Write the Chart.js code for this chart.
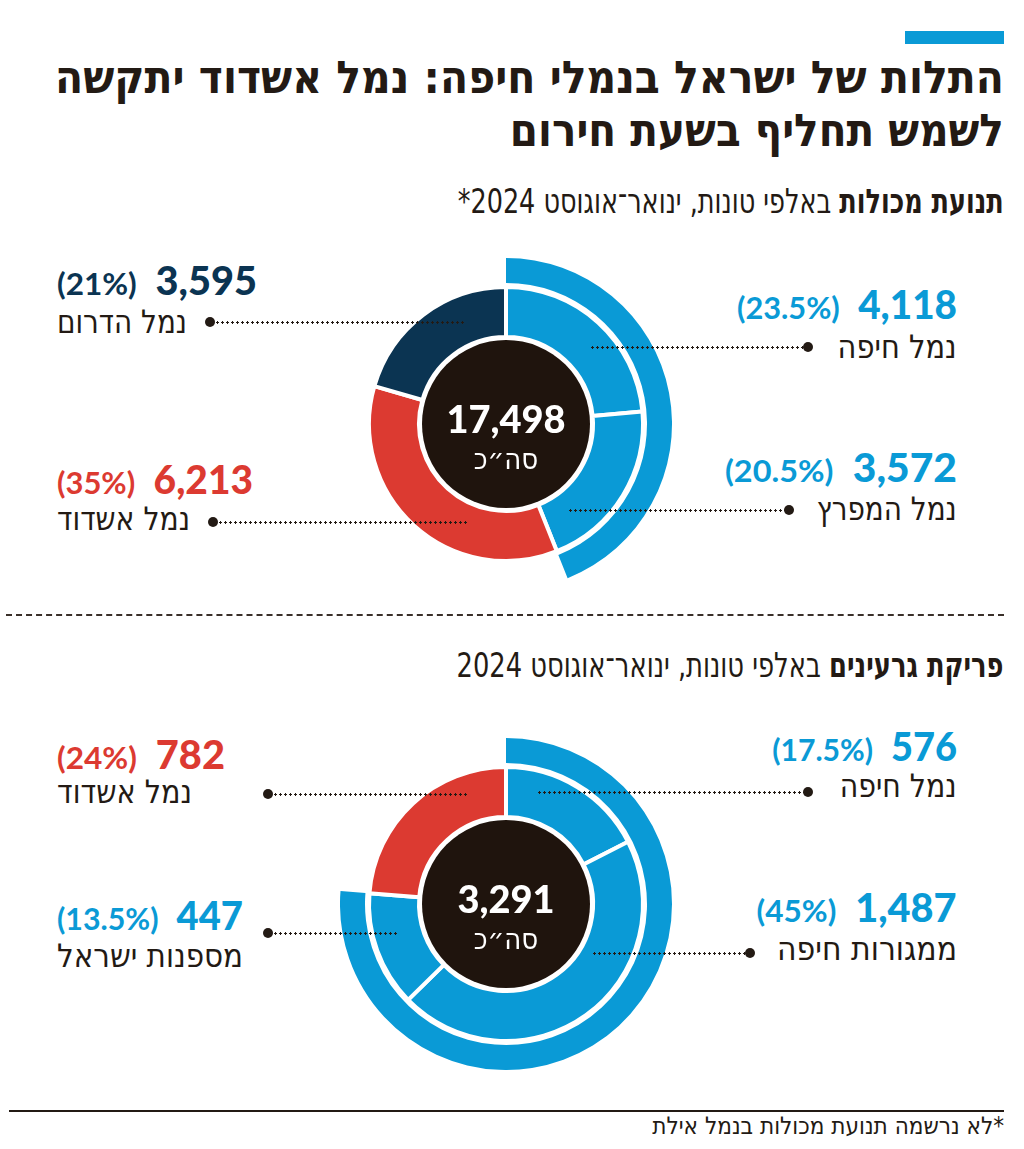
<!DOCTYPE html>
<html lang="he">
<head>
<meta charset="utf-8">
<script src="https://cdn.jsdelivr.net/npm/chart.js@4.4.1/dist/chart.umd.min.js"></script>
<style>
  html,body{margin:0;padding:0;background:#fff;}
  body{width:1024px;height:1149px;position:relative;overflow:hidden;color:#231a14;}
  .abs{position:absolute;white-space:nowrap;}
  .heb{font-family:"DejaVu Sans Condensed","DejaVu Sans","Liberation Sans",sans-serif;direction:rtl;}
  .num{font-family:Lato,"Open Sans",sans-serif;font-weight:900;direction:ltr;}
  .dots{position:absolute;height:3px;background-image:radial-gradient(circle,#231a14 1.1px,transparent 1.4px);background-size:5px 3px;background-repeat:repeat-x;}
  .dot{position:absolute;width:10px;height:10px;border-radius:50%;background:#231a14;}
  .center{position:absolute;text-align:center;color:#fff;}
</style>
</head>
<body>
<div id="stage"></div>
<script>
// ---------- DATA ----------
const containerLabels = ['נמל חיפה', 'נמל המפרץ', 'נמל אשדוד', 'נמל הדרום'];
const containerValues = [4118, 3572, 6213, 3595];
const containerPct    = ['23.5%', '20.5%', '35%', '21%'];
const containerHaifa  = [true, true, false, false];
const containerTotal  = 17498;

const grainLabels = ['נמל חיפה', 'ממגורות חיפה', 'מספנות ישראל', 'נמל אשדוד'];
const grainValues = [576, 1487, 447, 782];
const grainPct    = ['17.5%', '45%', '13.5%', '24%'];
const grainHaifa  = [true, true, true, false];
const grainTotal  = 3291;

const totalWord = 'סה״כ';

// ---------- STYLE ----------
const BLUE = '#0a9ad6', RED = '#dc3a31', NAVY = '#0b3452', DARK = '#1f140d', INK = '#231a14';
const containerColors = [BLUE, BLUE, RED, NAVY];
const grainColors = [BLUE, BLUE, BLUE, RED];

const stage = document.getElementById('stage');
function el(tag, cls, css, html){
  const e = document.createElement(tag);
  if (cls) e.className = cls;
  Object.assign(e.style, css || {});
  if (html !== undefined) e.innerHTML = html;
  stage.appendChild(e);
  return e;
}
function fit(e, w, origin){
  e.dataset.w = w; e.dataset.o = origin;
}

// header
el('div', 'abs', {left:'905px', top:'31px', width:'99px', height:'13px', background:BLUE});
let t1 = el('div', 'abs heb', {right:'20px', top:'51px', fontSize:'45px', fontWeight:'700', lineHeight:'53px', color:INK}, 'התלות של ישראל בנמלי חיפה: נמל אשדוד יתקשה');
fit(t1, 949, 'right');
let t2 = el('div', 'abs heb', {right:'20px', top:'104px', fontSize:'45px', fontWeight:'700', lineHeight:'53px', color:INK}, 'לשמש תחליף בשעת חירום');
fit(t2, 494, 'right');

let s1 = el('div', 'abs heb', {right:'20px', top:'184px', fontSize:'34px', lineHeight:'34px', color:INK}, '<b>תנועת מכולות</b> באלפי טונות, ינואר־אוגוסט 2024*');
fit(s1, 546, 'right');

el('div', 'abs', {left:'6px', top:'614px', width:'998px', height:'0', borderTop:'2px dashed #3a302a'});

let s2 = el('div', 'abs heb', {right:'20px', top:'648px', fontSize:'34px', lineHeight:'34px', color:INK}, '<b>פריקת גרעינים</b> באלפי טונות, ינואר־אוגוסט 2024');
fit(s2, 547, 'right');

el('div', 'abs', {left:'9px', top:'1110px', width:'995px', height:'2px', background:INK});
let fn = el('div', 'abs heb', {right:'20px', top:'1114px', fontSize:'24px', lineHeight:'24px', color:INK}, '*לא נרשמה תנועת מכולות בנמל אילת');
fit(fn, 352, 'right');

// ---------- CHARTS ----------
const centerDisc = {
  id: 'centerDisc',
  beforeDatasetsDraw(chart, args, opts){
    const meta = chart.getDatasetMeta(chart.data.datasets.length - 1);
    const a = meta.data[0];
    if (!a) return;
    const ctx = chart.ctx;
    ctx.save();
    ctx.beginPath();
    ctx.arc(a.x, a.y, a.innerRadius - opts.gap, 0, Math.PI * 2);
    ctx.fillStyle = opts.color;
    ctx.fill();
    ctx.restore();
  }
};

function makeDonut(cx, cy, values, colors, haifaFlags){
  const R = 166;
  const wrap = el('div', 'abs', {left:(cx - R) + 'px', top:(cy - R) + 'px', width:(2*R)+'px', height:(2*R)+'px'});
  const cv = document.createElement('canvas');
  cv.width = 2*R; cv.height = 2*R;
  cv.style.width = (2*R)+'px'; cv.style.height = (2*R)+'px';
  wrap.appendChild(cv);
  const haifaSum = values.reduce((s, v, i) => s + (haifaFlags[i] ? v : 0), 0);
  const otherSum = values.reduce((s, v, i) => s + (haifaFlags[i] ? 0 : v), 0);
  new Chart(cv, {
    type: 'doughnut',
    data: {
      labels: values.map((v, i) => i),
      datasets: [
        {data:[haifaSum, otherSum], backgroundColor:[BLUE, 'rgba(0,0,0,0)'], borderWidth:0, hoverBorderWidth:0, weight:25},
        {data:[1], backgroundColor:['rgba(0,0,0,0)'], borderWidth:0, hoverBorderWidth:0, weight:4},
        {data:values, backgroundColor:colors, borderColor:'#ffffff', borderWidth:4, hoverBorderWidth:4, weight:50}
      ]
    },
    options: {
      responsive:false, maintainAspectRatio:false, animation:false, events:[],
      cutout: (87/166*100) + '%',
      layout:{padding:0},
      plugins:{legend:{display:false}, tooltip:{enabled:false}, centerDisc:{gap:3, color:DARK}}
    },
    plugins:[centerDisc]
  });
}

const fmt = v => v.toLocaleString('en-US');

function centerText(cx, cy, total){
  el('div', 'center num', {left:(cx-90)+'px', width:'180px', top:(cy-28)+'px', fontSize:'38px', lineHeight:'44px'}, fmt(total));
  el('div', 'center heb', {left:(cx-90)+'px', width:'180px', top:(cy+17)+'px', fontSize:'29px', lineHeight:'36px'}, totalWord);
}

// label layout: side, anchor x, numTop, labTop, numW, labW, dot x/y, line end
function label(L, value, pct, name, color){
  const numCss = {top:L.numTop+'px', fontSize:'39px', lineHeight:'38px', color:color};
  if (L.side === 'right') numCss.right = (1024 - L.x) + 'px'; else numCss.left = L.x + 'px';
  const n = el('div', 'abs num', numCss, '<span style="font-size:31px;font-weight:700">(' + pct + ')</span>&nbsp;&nbsp;' + fmt(value));
  fit(n, L.numW, L.side === 'right' ? 'right' : 'left');
  const labCss = {top:L.labTop+'px', fontSize:'32px', lineHeight:'30px', color:INK};
  if (L.side === 'right') labCss.right = (1024 - L.x) + 'px'; else labCss.left = L.x + 'px';
  const lb = el('div', 'abs heb', labCss, name);
  fit(lb, L.labW, L.side === 'right' ? 'right' : 'left');
  el('div', 'dot', {left:(L.dx-5)+'px', top:(L.dy-5)+'px'});
  const a = Math.min(L.dx, L.le), b = Math.max(L.dx, L.le);
  el('div', 'dots', {left:a+'px', top:(L.dy-1.5)+'px', width:(b-a)+'px'});
}

const layout1 = [
  {side:'right', x:957, numTop:285, labTop:332, numW:220, labW:119, dx:808, dy:347, le:590},
  {side:'right', x:957, numTop:448, labTop:494, numW:232, labW:140, dx:789, dy:510, le:568},
  {side:'left',  x:57,  numTop:460, labTop:504, numW:196, labW:133, dx:213, dy:522, le:468},
  {side:'left',  x:57,  numTop:261, labTop:307, numW:200, labW:130, dx:210, dy:322, le:466}
];
const layout2 = [
  {side:'right', x:957, numTop:727, labTop:771, numW:185, labW:117, dx:808, dy:792, le:537},
  {side:'right', x:957, numTop:888, labTop:934, numW:200, labW:180, dx:750, dy:953, le:592},
  {side:'left',  x:57,  numTop:896, labTop:941, numW:186, labW:186, dx:268, dy:933, le:397},
  {side:'left',  x:57,  numTop:735, labTop:777, numW:168, labW:135, dx:268, dy:794, le:468}
];

makeDonut(506, 424, containerValues, containerColors, containerHaifa);
makeDonut(506, 904, grainValues, grainColors, grainHaifa);
centerText(506, 424, containerTotal);
centerText(506, 904, grainTotal);
containerValues.forEach((v, i) => label(layout1[i], v, containerPct[i], containerLabels[i], containerColors[i]));
grainValues.forEach((v, i) => label(layout2[i], v, grainPct[i], grainLabels[i], grainColors[i]));

// fit widths
document.querySelectorAll('[data-w]').forEach(e => {
  const w = e.getBoundingClientRect().width;
  const s = parseFloat(e.dataset.w) / w;
  e.style.transformOrigin = e.dataset.o + ' top';
  e.style.transform = 'scaleX(' + s.toFixed(4) + ')';
});
</script>
</body>
</html>
